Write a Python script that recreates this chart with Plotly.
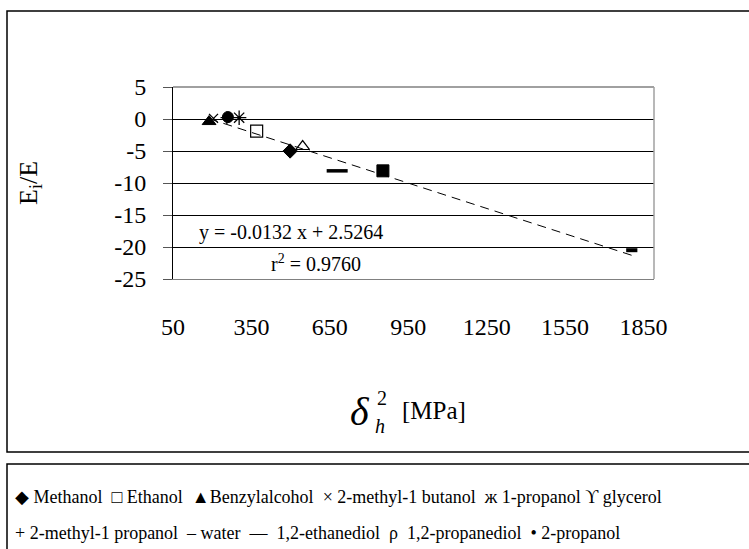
import plotly.graph_objects as go

# ---------------- data ----------------
names = ["Methanol", "Ethanol", "Benzylalcohol", "2-methyl-1 butanol", "1-propanol",
         "glycerol", "2-methyl-1 propanol", "water", "1,2-ethanediol",
         "1,2-propanediol", "2-propanol"]
dh2 = [498, 370, 188, 205, 303, 853, 256, 1805, 678, 546, 260]
ei_e = [-5.0, -1.9, -0.4, 0.1, 0.2, -8.1, 0.2, -20.5, -8.1, -4.3, 0.3]
symbols = ["diamond", "square-open", "triangle-up", "x-thin-open", "asterisk-open",
           "square", "cross-thin-open", "line-ew-open", "line-ew-open",
           "triangle-up-open", "circle"]
sizes = [11, 12, 12, 9, 12, 12, 9, 8, 15, 12, 11]
lwidths = [1, 1.2, 1, 1.3, 1.3, 1, 1.3, 4, 3.5, 1.2, 1]

slope = -0.0132
intercept = 2.5264
r2 = 0.9760

x_ticks = [50, 350, 650, 950, 1250, 1550, 1850]
y_ticks = [5, 0, -5, -10, -15, -20, -25]

legend_row1 = "◆ Methanol  □ Ethanol  ▲Benzylalcohol  × 2-methyl-1 butanol  ж 1-propanol ϒ glycerol"
legend_row2 = "+ 2-methyl-1 propanol  – water  —  1,2-ethanediol  ρ  1,2-propanediol  • 2-propanol"

# ---------------- layout geometry ----------------
W, H = 749, 549
L, R, T, B = 173, 654, 87, 279
FONT = "Liberation Serif"


def px(x):
    return (x - L) / (R - L)


def py(y):
    return (B - y) / (B - T)


fig = go.Figure()

# trendline
xmin, xmax = min(dh2), max(dh2)
fig.add_trace(go.Scatter(
    x=[xmin, xmax], y=[slope * xmin + intercept, slope * xmax + intercept],
    mode="lines", line=dict(color="black", width=1, dash="9px,6px"),
    showlegend=False, hoverinfo="skip"))

for n, xv, yv, s, sz, lw in zip(names, dh2, ei_e, symbols, sizes, lwidths):
    fig.add_trace(go.Scatter(
        x=[xv], y=[yv], mode="markers", name=n, showlegend=False,
        marker=dict(symbol=s, size=sz, color="black",
                    line=dict(color="black", width=lw))))

ann = [
    dict(x=px(291), y=py(232), text="y = -0.0132 x + 2.5264", size=20),
    dict(x=px(316), y=py(263), text="r<sup>2</sup> = %.4f" % r2, size=20),
    dict(x=px(30), y=py(183), text="E<sub>i</sub>/E", size=26, angle=-90),
    dict(x=px(360), y=py(411), text="<i>δ</i>", size=40),
    dict(x=px(382), y=py(398), text="2", size=20),
    dict(x=px(380), y=py(426), text="<i>h</i>", size=20),
    dict(x=px(434), y=py(410), text="[MPa]", size=25),
]
for a in ann:
    fig.add_annotation(x=a["x"], y=a["y"], xref="paper", yref="paper",
                       text=a["text"], showarrow=False,
                       textangle=a.get("angle", 0),
                       font=dict(family=FONT, size=a["size"], color="black"),
                       xanchor="center", yanchor="middle")

for txt, yy in [(legend_row1, 497), (legend_row2, 533)]:
    fig.add_annotation(x=px(13), y=py(yy), xref="paper", yref="paper", text=txt,
                       showarrow=False, xanchor="left", yanchor="middle",
                       font=dict(family=FONT, size=18, color="black"))

shapes = [
    # outer chart frame
    dict(type="rect", xref="paper", yref="paper", x0=px(7), x1=px(752), y0=py(11), y1=py(452),
         line=dict(color="black", width=1.5), layer="below"),
    # legend frame
    dict(type="rect", xref="paper", yref="paper", x0=px(7), x1=px(752), y0=py(464), y1=py(570),
         line=dict(color="black", width=1.5), layer="below"),
    # plot area top and right border
    dict(type="line", xref="paper", yref="paper", x0=0, x1=1, y0=1, y1=1,
         line=dict(color="#808080", width=1.5)),
    dict(type="line", xref="paper", yref="paper", x0=1, x1=1, y0=0, y1=1,
         line=dict(color="#a0a0a0", width=1.5)),
]

fig.update_layout(
    width=W, height=H,
    margin=dict(l=L, r=W - R, t=T, b=H - B, pad=0),
    paper_bgcolor="white", plot_bgcolor="white",
    shapes=shapes, showlegend=False,
    xaxis=dict(range=[50, 1890], tickvals=x_ticks, ticktext=[str(v) for v in x_ticks],
               showgrid=False, zeroline=False, showline=True, linecolor="#808080",
               linewidth=1, ticks="", ticklabelstandoff=26,
               tickfont=dict(family=FONT, size=24, color="black")),
    yaxis=dict(range=[-25, 5], tickvals=y_ticks, ticktext=[str(v) for v in y_ticks],
               showgrid=True, gridcolor="black", gridwidth=1, zeroline=False,
               showline=True, linecolor="black", linewidth=1,
               ticks="outside", ticklen=9, tickcolor="#555", tickwidth=1,
               ticklabelstandoff=12,
               tickfont=dict(family=FONT, size=24, color="black")),
)

fig.write_html("out.html")
